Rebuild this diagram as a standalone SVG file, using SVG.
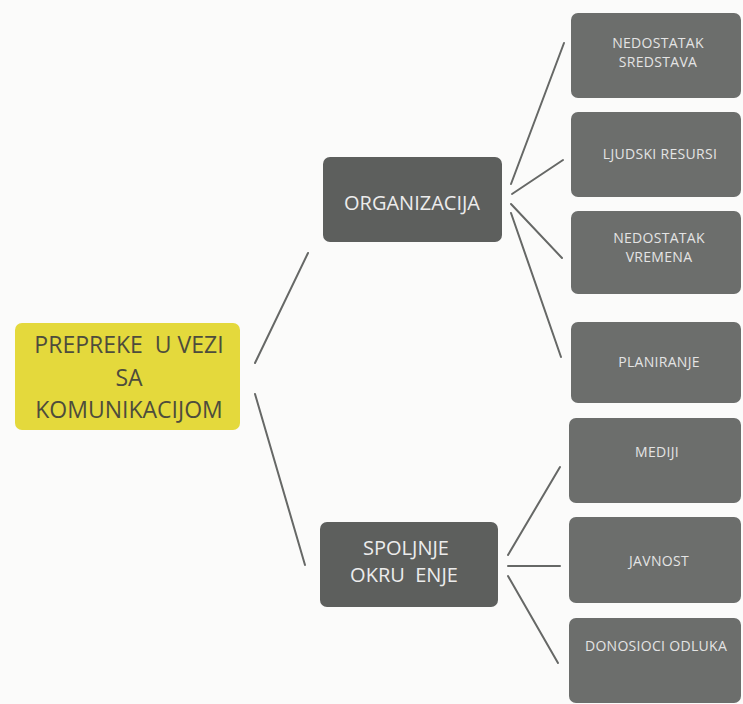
<svg xmlns="http://www.w3.org/2000/svg" width="743" height="704" viewBox="0 0 743 704">
<style>
.bg{fill:#fbfbfa}
.root{fill:#e4d93c}
.mid{fill:#5d5f5d}
.leaf{fill:#6c6e6c}
.t{font-family:"Open Sans","Noto Sans","Liberation Sans",sans-serif;text-anchor:middle;white-space:pre}
.rt{font-size:23px;fill:#4d4c3c}
.mt{font-size:20px;fill:#ececec}
.lt{font-size:14px;letter-spacing:0.3px;fill:#e4e4e4}
.c line{stroke:#666866;stroke-width:2;stroke-linecap:round}
</style>
<rect class="bg" x="0" y="0" width="743" height="704"/>
<g class="c" id="connectors">
<line x1="255" y1="363" x2="308" y2="253"/>
<line x1="255" y1="394" x2="305" y2="565"/>
<line x1="511" y1="184" x2="564" y2="43"/>
<line x1="512" y1="194" x2="563" y2="160"/>
<line x1="511" y1="204" x2="562" y2="258"/>
<line x1="511" y1="213" x2="561" y2="357"/>
<line x1="508" y1="555" x2="560" y2="467"/>
<line x1="508" y1="566" x2="560" y2="566"/>
<line x1="508" y1="576" x2="558" y2="663"/>
</g>
<g id="root">
<rect class="root" x="15" y="323" width="225" height="107" rx="7"/>
<text class="t rt" x="129" y="353">PREPREKE  U VEZI</text>
<text class="t rt" x="129" y="386">SA</text>
<text class="t rt" x="129" y="418">KOMUNIKACIJOM</text>
</g>
<g id="organizacija">
<rect class="mid" x="323" y="157" width="179" height="85" rx="7"/>
<text class="t mt" x="412" y="210">ORGANIZACIJA</text>
</g>
<g id="spoljnje">
<rect class="mid" x="320" y="522" width="178" height="85" rx="7"/>
<text class="t mt" x="406" y="555">SPOLJNJE</text>
<text class="t mt" x="404" y="582">OKRU  ENJE</text>
</g>
<g id="sredstva">
<rect class="leaf" x="571" y="13" width="170" height="85" rx="7"/>
<text class="t lt" x="658" y="48">NEDOSTATAK</text>
<text class="t lt" x="658" y="67">SREDSTAVA</text>
</g>
<g id="ljudski">
<rect class="leaf" x="571" y="112" width="170" height="85" rx="7"/>
<text class="t lt" x="660" y="159">LJUDSKI RESURSI</text>
</g>
<g id="vremena">
<rect class="leaf" x="571" y="211" width="170" height="83" rx="7"/>
<text class="t lt" x="659" y="243">NEDOSTATAK</text>
<text class="t lt" x="659" y="262">VREMENA</text>
</g>
<g id="planiranje">
<rect class="leaf" x="571" y="322" width="170" height="81" rx="7"/>
<text class="t lt" x="659" y="367">PLANIRANJE</text>
</g>
<g id="mediji">
<rect class="leaf" x="569" y="418" width="172" height="85" rx="7"/>
<text class="t lt" x="657" y="457">MEDIJI</text>
</g>
<g id="javnost">
<rect class="leaf" x="569" y="517" width="172" height="86" rx="7"/>
<text class="t lt" x="659" y="566">JAVNOST</text>
</g>
<g id="donosioci">
<rect class="leaf" x="569" y="618" width="172" height="85" rx="7"/>
<text class="t lt" x="656" y="651">DONOSIOCI ODLUKA</text>
</g>
</svg>
